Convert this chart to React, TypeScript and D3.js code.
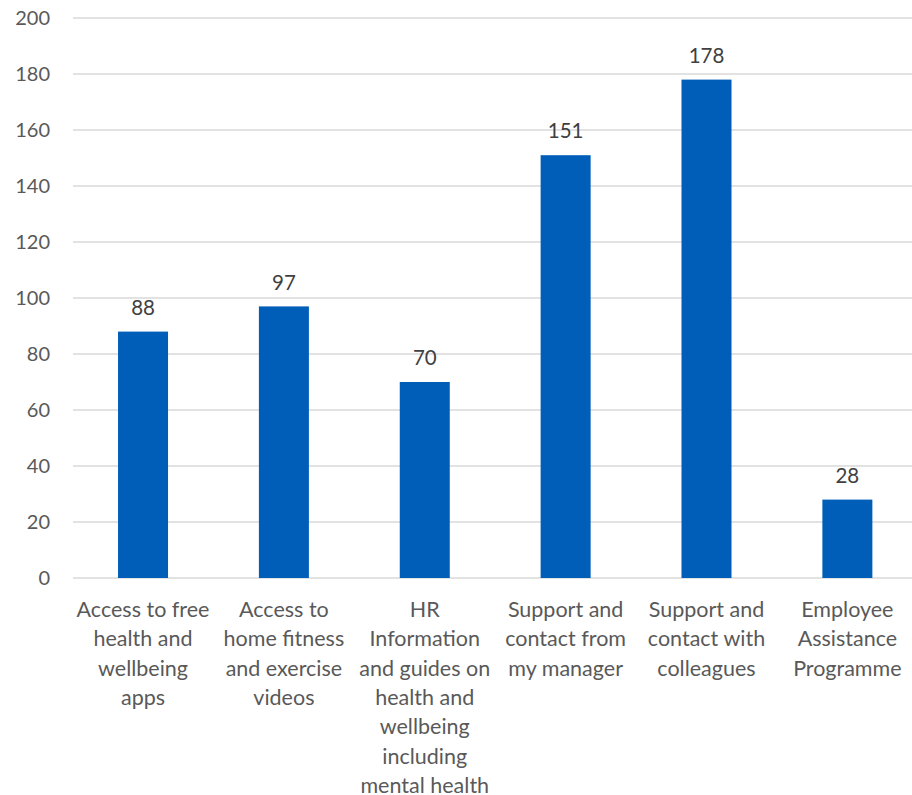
import React from "react";
import * as d3 from "d3";

const categories: string[][] = [
  ["Access to free", "health and", "wellbeing", "apps"],
  ["Access to", "home fitness", "and exercise", "videos"],
  ["HR", "Information", "and guides on", "health and", "wellbeing", "including", "mental health"],
  ["Support and", "contact from", "my manager"],
  ["Support and", "contact with", "colleagues"],
  ["Employee", "Assistance", "Programme"],
];
const values: number[] = [88, 97, 70, 151, 178, 28];
const yTicks: number[] = [0, 20, 40, 60, 80, 100, 120, 140, 160, 180, 200];

const W = 912;
const H = 795;
const FONT = "Lato, 'Open Sans', sans-serif";
const TEXT = "#595959";

export default function App() {
  const idx = values.map((_, i) => String(i));
  const x = d3.scaleBand<string>().domain(idx).range([72.6, 917.8]).paddingInner(0.645).paddingOuter(0.3225);
  const y = d3.scaleLinear().domain([0, 200]).range([578, 18]);
  return (
    <svg width={W} height={H} style={{ position: "absolute", left: 0, top: 0, background: "#fff" }}>
      {yTicks.map((t) => (
        <g key={t}>
          <line x1={73} x2={912} y1={y(t)} y2={y(t)} stroke="#d9d9d9" strokeWidth={1.3} />
          <text x={50} y={y(t)} dy="0.35em" textAnchor="end" fontFamily={FONT} fontSize={20} fill={TEXT}>
            {t}
          </text>
        </g>
      ))}
      {values.map((v, i) => {
        const bx = x(String(i))!;
        const bw = x.bandwidth();
        const cx = bx + bw / 2;
        return (
          <g key={i}>
            <rect x={bx} y={y(v)} width={bw} height={y(0) - y(v)} fill="#005EB8" />
            <text x={cx} y={y(v) - 24} dy="0.35em" textAnchor="middle" fontFamily={FONT} fontSize={20.5} fill="#404040">
              {v}
            </text>
            <text textAnchor="middle" fontFamily={FONT} fontSize={21.5} fill={TEXT}>
              {categories[i].map((line, j) => (
                <tspan key={j} x={cx} y={609.5 + j * 29.3} dy="0.35em">
                  {line}
                </tspan>
              ))}
            </text>
          </g>
        );
      })}
    </svg>
  );
}
